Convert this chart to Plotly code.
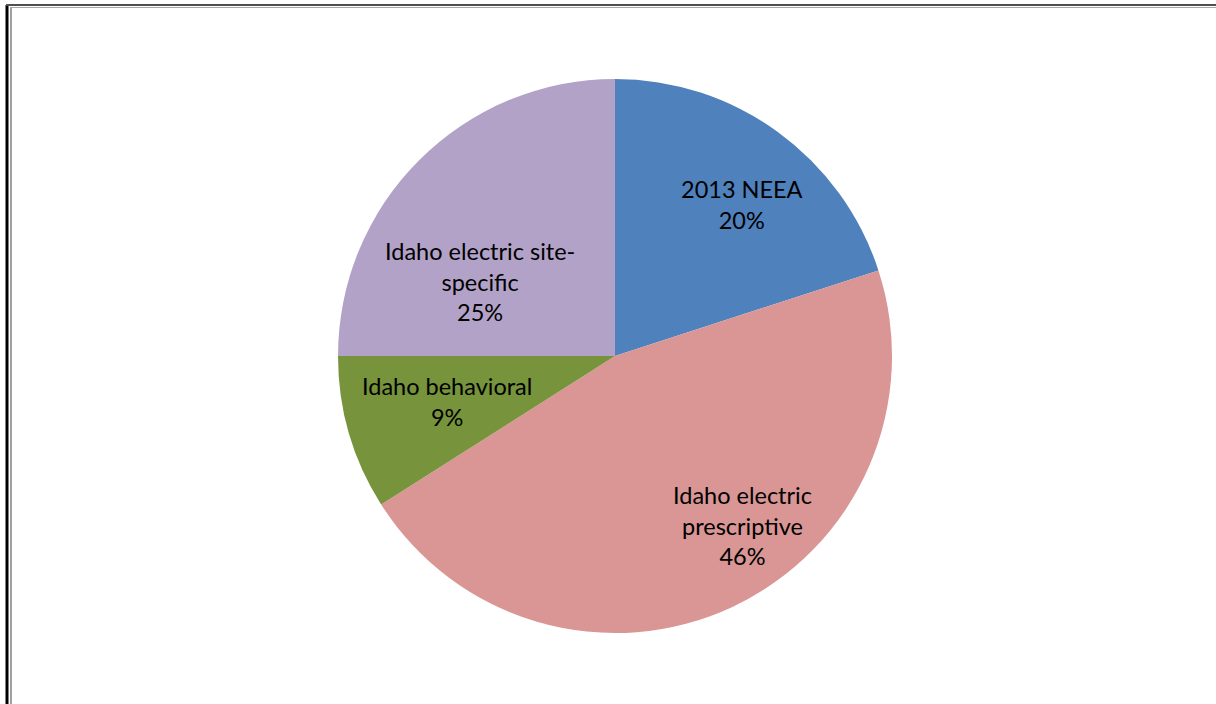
import plotly.graph_objects as go

labels = ["2013 NEEA", "Idaho electric prescriptive", "Idaho behavioral", "Idaho electric site-specific"]
display = ["2013 NEEA", "Idaho electric<br>prescriptive", "Idaho behavioral", "Idaho electric site-<br>specific"]
values = [20, 46, 9, 25]
colors = ["#4F81BD", "#D99694", "#77933C", "#B3A2C7"]

W, H = 1216, 704
cx, cy, r = 615, 356, 277
# label block centres (pixels), as placed by the original chart
label_pos = [(742, 204), (742, 525), (447, 401), (480, 281)]

fig = go.Figure(go.Pie(
    labels=labels, values=values,
    sort=False, direction="clockwise", rotation=0,
    marker=dict(colors=colors, line=dict(width=0)),
    textinfo="none",
    domain=dict(x=[(cx - r) / W, (cx + r) / W], y=[1 - (cy + r) / H, 1 - (cy - r) / H]),
    showlegend=False, hoverinfo="label+percent",
))

total = sum(values)
annotations = []
for txt, v, (px, py) in zip(display, values, label_pos):
    annotations.append(dict(
        xref="paper", yref="paper", x=px / W, y=1 - py / H,
        xanchor="center", yanchor="middle", showarrow=False, align="center",
        text=f"{txt}<br>{round(v / total * 100)}%",
        font=dict(family="Lato, Open Sans, sans-serif", size=23.5, color="#000000"),
    ))

fig.update_layout(
    width=W, height=H, margin=dict(l=0, r=0, t=0, b=0),
    paper_bgcolor="white", plot_bgcolor="white",
    annotations=annotations,
    shapes=[
        dict(type="line", xref="paper", yref="paper", x0=7 / W, x1=7 / W, y0=0, y1=1 - 5 / H,
             line=dict(color="#000000", width=3)),
        dict(type="line", xref="paper", yref="paper", x0=11 / W, x1=11 / W, y0=0, y1=1 - 7 / H,
             line=dict(color="#A0A0A0", width=2)),
        dict(type="line", xref="paper", yref="paper", x0=6 / W, x1=1, y0=1 - 5 / H, y1=1 - 5 / H,
             line=dict(color="#505050", width=2)),
        dict(type="line", xref="paper", yref="paper", x0=10 / W, x1=1, y0=1 - 7.5 / H, y1=1 - 7.5 / H,
             line=dict(color="#A8A8A8", width=1)),
    ],
)

fig.write_html("out.html", config={"displayModeBar": False},
               post_script="document.body.style.margin='0';")
